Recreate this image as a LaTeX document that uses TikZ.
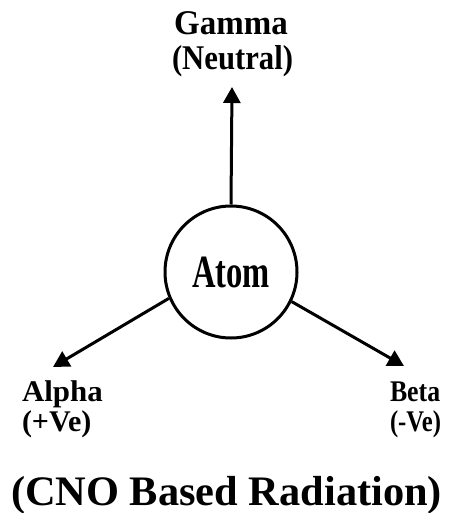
\documentclass[tikz,border=0pt]{standalone}
\usepackage{fontspec}
\setmainfont{Liberation Serif}
\usetikzlibrary{arrows.meta}
\tikzset{
  lbl/.style={inner sep=0pt, outer sep=0pt, font=\bfseries},
  arr/.style={line width=3pt, -{Triangle[length=16pt,width=17pt]}},
}
\newcommand{\lblfont}[2]{\fontsize{#1}{#1}\selectfont #2}
\begin{document}
\begin{tikzpicture}[x=1pt,y=-1pt]
\useasboundingbox (0,0) rectangle (448,513);
\node[circle, draw, line width=3pt, minimum size=132pt, inner sep=0pt] (atom) at (231,272) {};
\node[lbl, anchor=base] (atomtxt) at (231,287) {\scalebox{0.74}[1.05]{\lblfont{44}{Atom}}};
\coordinate (tipG) at (232,87);
\coordinate (tipA) at (53,367);
\coordinate (tipB) at (404,366);
\draw[arr] (atom.90) -- (tipG);
\draw[arr] (atom.203.6) -- (tipA);
\draw[arr] (atom.334) -- (tipB);
\node[lbl, anchor=base] (gamma) at (231,35) {\scalebox{1}[1.05]{\lblfont{33}{Gamma}}};
\node[lbl, anchor=base] (neutral) at (232.5,70) {\scalebox{0.93}[1.05]{\lblfont{33}{(Neutral)}}};
\node[lbl, anchor=base west] (alpha) at (22,401) {\scalebox{1.03}[1]{\lblfont{30}{Alpha}}};
\node[lbl, anchor=base west] (plusve) at (22,431) {\lblfont{30}{(+Ve)}};
\node[lbl, anchor=base west] (beta) at (390,401) {\scalebox{0.86}[1]{\lblfont{30}{Beta}}};
\node[lbl, anchor=base west] (minusve) at (390,431) {\scalebox{0.82}[1]{\lblfont{30}{(-Ve)}}};
\node[lbl, anchor=base west] (title) at (11,505) {\scalebox{1.06}[1.05]{\lblfont{40}{(CNO Based Radiation)}}};
\end{tikzpicture}
\end{document}
